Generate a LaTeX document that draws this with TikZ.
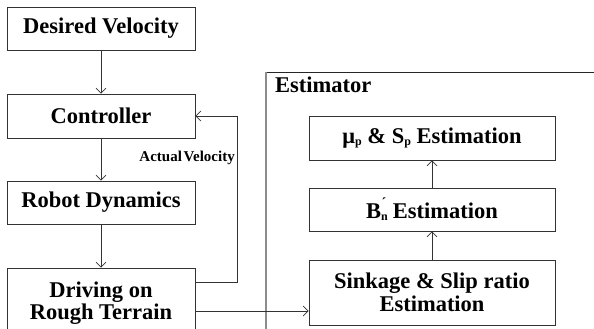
\documentclass[tikz,border=0pt]{standalone}
\usepackage{fontspec}
\setmainfont{Liberation Serif}
\usetikzlibrary{arrows.meta,calc}

\begin{document}
\begin{tikzpicture}[x=1pt,y=-1pt,
  block/.style={draw=black!80,line width=0.9pt,fill=white,inner sep=2pt,
    font=\fontsize{22.5}{25}\selectfont\bfseries,align=center,minimum width=188pt},
  estblock/.style={block,minimum width=246pt},
  flow/.style={draw=black!80,line width=0.7pt,-{Straight Barb[length=5pt,width=10pt]}}]
  \useasboundingbox (0,0) rectangle (594,329);
  \clip (0,0) rectangle (594,329);
  % estimator frame
  \draw[black!85,line width=0.9pt] (266,72) -- (600,72);
  \draw[black!45,line width=1.3pt] (266,72) -- (266,340);
  \node[anchor=west,font=\fontsize{22.5}{25}\selectfont\bfseries,inner sep=0pt] (esttitle) at (275,85) {Estimator};
  % left chain
  \node[block,minimum height=43pt] (DV) at (101,28.5) {Desired Velocity};
  \node[block,minimum height=44pt] (CT) at (101,116) {Controller};
  \node[block,minimum height=43pt] (RD) at (101,202.5) {Robot Dynamics};
  \node[block,minimum height=70pt] (DR) at (101,303) {Driving on\\[-3pt]Rough Terrain};
  % estimator chain
  \node[estblock,minimum height=44pt] (MU) at (432,138) {μ\raisebox{-2pt}{\fontsize{12}{12}\selectfont p} \& S\raisebox{-2pt}{\fontsize{12}{12}\selectfont p} Estimation};
  \node[estblock,minimum height=43pt] (BN) at (432,209.5) {B\raisebox{-2pt}{\fontsize{12}{12}\selectfont n}\hspace{-6pt}\raisebox{11pt}{\fontsize{14}{14}\selectfont ´}\hspace{1pt} Estimation};
  \node[estblock,minimum height=65pt] (SK) at (432,292.5) {Sinkage \& Slip ratio\\[-2pt]Estimation};
  \coordinate (fb) at (237,282);
  \coordinate (skin) at (309,311);
  \path
  (DV) edge[flow] (CT)
  (CT) edge[flow] (RD)
  (RD) edge[flow] (DR)
  (SK) edge[flow] (BN)
  (BN) edge[flow] (MU);
  \draw[flow] (DR.east |- fb) -- (fb) |- (CT.east);
  \draw[flow] (DR.east |- skin) -- (SK.west |- skin);
  \node[anchor=south east,font=\fontsize{15}{17}\selectfont\bfseries,inner sep=1pt] (AV) at (236,166) {Actual\hspace{-2pt} Velocity};
\end{tikzpicture}
\end{document}
